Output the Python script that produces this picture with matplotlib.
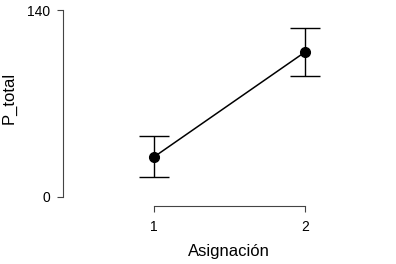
import matplotlib
matplotlib.use("Agg")
import matplotlib.pyplot as plt

plt.rcParams['font.family'] = ['Liberation Sans', 'DejaVu Sans']

# data
groups = [1, 2]
means = [30, 108.5]
ci_err = [15.3, 18.2]
y_ticks = [0, 140]

W, H = 396, 264
fig = plt.figure(figsize=(W / 100, H / 100), dpi=100)
# axes box in pixels: left 63, right 380, top 8, bottom 206
ax = fig.add_axes([63 / W, (H - 206) / H, (380 - 63) / W, 198 / H])

ax.errorbar(groups, means, yerr=ci_err, color='black', lw=1.1,
            marker='o', ms=7, capsize=10.8, capthick=1.0, elinewidth=1.0)

px_x = 151.0
ax.set_xlim(1 - 91 / px_x, 2 + 75 / px_x)
px_y = 187 / 140
ax.set_ylim(-9 / px_y, 189 / px_y)

for s in ['top', 'right']:
    ax.spines[s].set_visible(False)
ax.spines['left'].set_bounds(0, 140)
ax.spines['bottom'].set_bounds(1, 2)
for s in ['left', 'bottom']:
    ax.spines[s].set_linewidth(0.8)
    ax.spines[s].set_color('#444444')

ax.set_xticks(groups)
ax.set_yticks(y_ticks)
ax.tick_params(length=4.5, width=0.8, color='#444444', labelsize=10)
ax.tick_params(axis='x', pad=5.5)
ax.tick_params(axis='y', pad=5)

ax.set_xlabel('Asignación', fontsize=12)
ax.set_ylabel('P_total', fontsize=12)
ax.xaxis.set_label_coords((229 - 63) / 317, (206 - 244) / 198)
ax.yaxis.set_label_coords((17 - 63) / 317, (206 - 98) / 198)

fig.savefig('out.png', dpi=100)
